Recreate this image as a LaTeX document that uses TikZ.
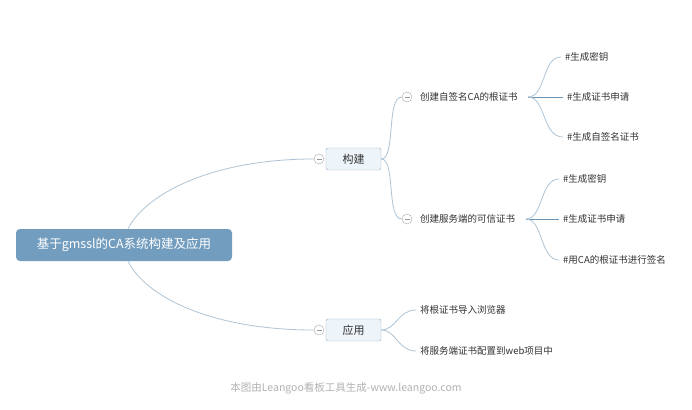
\documentclass[tikz,border=0pt]{standalone}
\usepackage{fontspec}
\setmainfont{Noto Sans CJK SC}
\definecolor{rootblue}{RGB}{114,157,191}
\definecolor{boxfill}{RGB}{238,245,250}
\definecolor{boxline}{RGB}{150,175,195}
\definecolor{lineblue}{RGB}{175,196,214}
\definecolor{darkline}{RGB}{105,148,182}
\definecolor{textgray}{RGB}{50,50,50}

\begin{document}
\begin{tikzpicture}[x=1pt,y=-1pt,
  rootstyle/.style={rectangle,rounded corners=4,fill=rootblue,text=white,minimum width=216,minimum height=32,font=\fontsize{12.5}{14}\selectfont},
  topicstyle/.style={rectangle,rounded corners=2,draw=boxline,fill=boxfill,minimum width=55,minimum height=22,font=\fontsize{11}{13}\selectfont,text=textgray},
  togglestyle/.style={circle,draw=gray!70,fill=white,inner sep=0,minimum size=10,path picture={\draw[gray!80] ([xshift=2.5]path picture bounding box.west) -- ([xshift=-2.5]path picture bounding box.east);}},
  substyle/.style={anchor=west,inner sep=0,font=\fontsize{9.5}{11}\selectfont,text=textgray},
  leafstyle/.style={anchor=west,inner xsep=4,inner ysep=1,font=\fontsize{9.5}{11}\selectfont,text=textgray},
  branch/.style={draw=lineblue,line width=0.8},
  mainline/.style={draw=darkline,line width=0.8}]

  \useasboundingbox[fill=white] (0,0) rectangle (692,409);

  % root and main topics
  \node [rootstyle]   (root)  at (124,245) {基于gmssl的CA系统构建及应用};
  \node [topicstyle]  (build) at (353.5,159) {构建};
  \node [togglestyle] (tb)    at (319,159) {};
  \node [topicstyle]  (apply) at (353.5,330) {应用};
  \node [togglestyle] (ta)    at (319,330) {};

  % sub topics of build
  \node [togglestyle] (t1) at (407,97) {};
  \node [substyle]    (s1) at (420,97) {创建自签名CA的根证书};
  \node [togglestyle] (t2) at (407,219) {};
  \node [substyle]    (s2) at (420,219) {创建服务端的可信证书};
  \coordinate (j1) at (528,97);
  \coordinate (j2) at (526,219);

  % leaves
  \node [leafstyle] (l11) at (561,57)  {\#生成密钥};
  \node [leafstyle] (l12) at (563,97)  {\#生成证书申请};
  \node [leafstyle] (l13) at (563,137) {\#生成自签名证书};
  \node [leafstyle] (l21) at (559,179) {\#生成密钥};
  \node [leafstyle] (l22) at (559,219) {\#生成证书申请};
  \node [leafstyle] (l23) at (559,260) {\#用CA的根证书进行签名};
  \node [leafstyle] (a1) at (416,310) {将根证书导入浏览器};
  \node [leafstyle] (a2) at (416,351) {将服务端证书配置到web项目中};

  % connectors
  \draw [branch] ([xshift=4]root.north) .. controls (145,195) and (210,159) .. (tb.west);
  \draw [branch] ([xshift=4]root.south) .. controls (145,296) and (210,330) .. (ta.west);
  \draw [branch] (build.east) .. controls (396,159) and (386,97) .. (t1.west);
  \draw [branch] (build.east) .. controls (396,159) and (386,219) .. (t2.west);
  \draw [branch] (j1) .. controls (546,97) and (542,57) .. (l11.west);
  \draw [mainline] (j1) -- (l12.west);
  \draw [branch] (j1) .. controls (546,97) and (542,137) .. (l13.west);
  \draw [branch] (j2) .. controls (543,219) and (540,179) .. (l21.west);
  \draw [mainline] (j2) -- (l22.west);
  \draw [branch] (j2) .. controls (543,219) and (540,260) .. (l23.west);
  \draw [branch] (apply.east) .. controls (396,330) and (398,310) .. (a1.west);
  \draw [branch] (apply.east) .. controls (396,330) and (398,351) .. (a2.west);

  % footer
  \node [font=\fontsize{10.5}{12}\selectfont,text=gray!60] (foot) at (346,388) {本图由Leangoo看板工具生成-www.leangoo.com};
\end{tikzpicture}
\end{document}
